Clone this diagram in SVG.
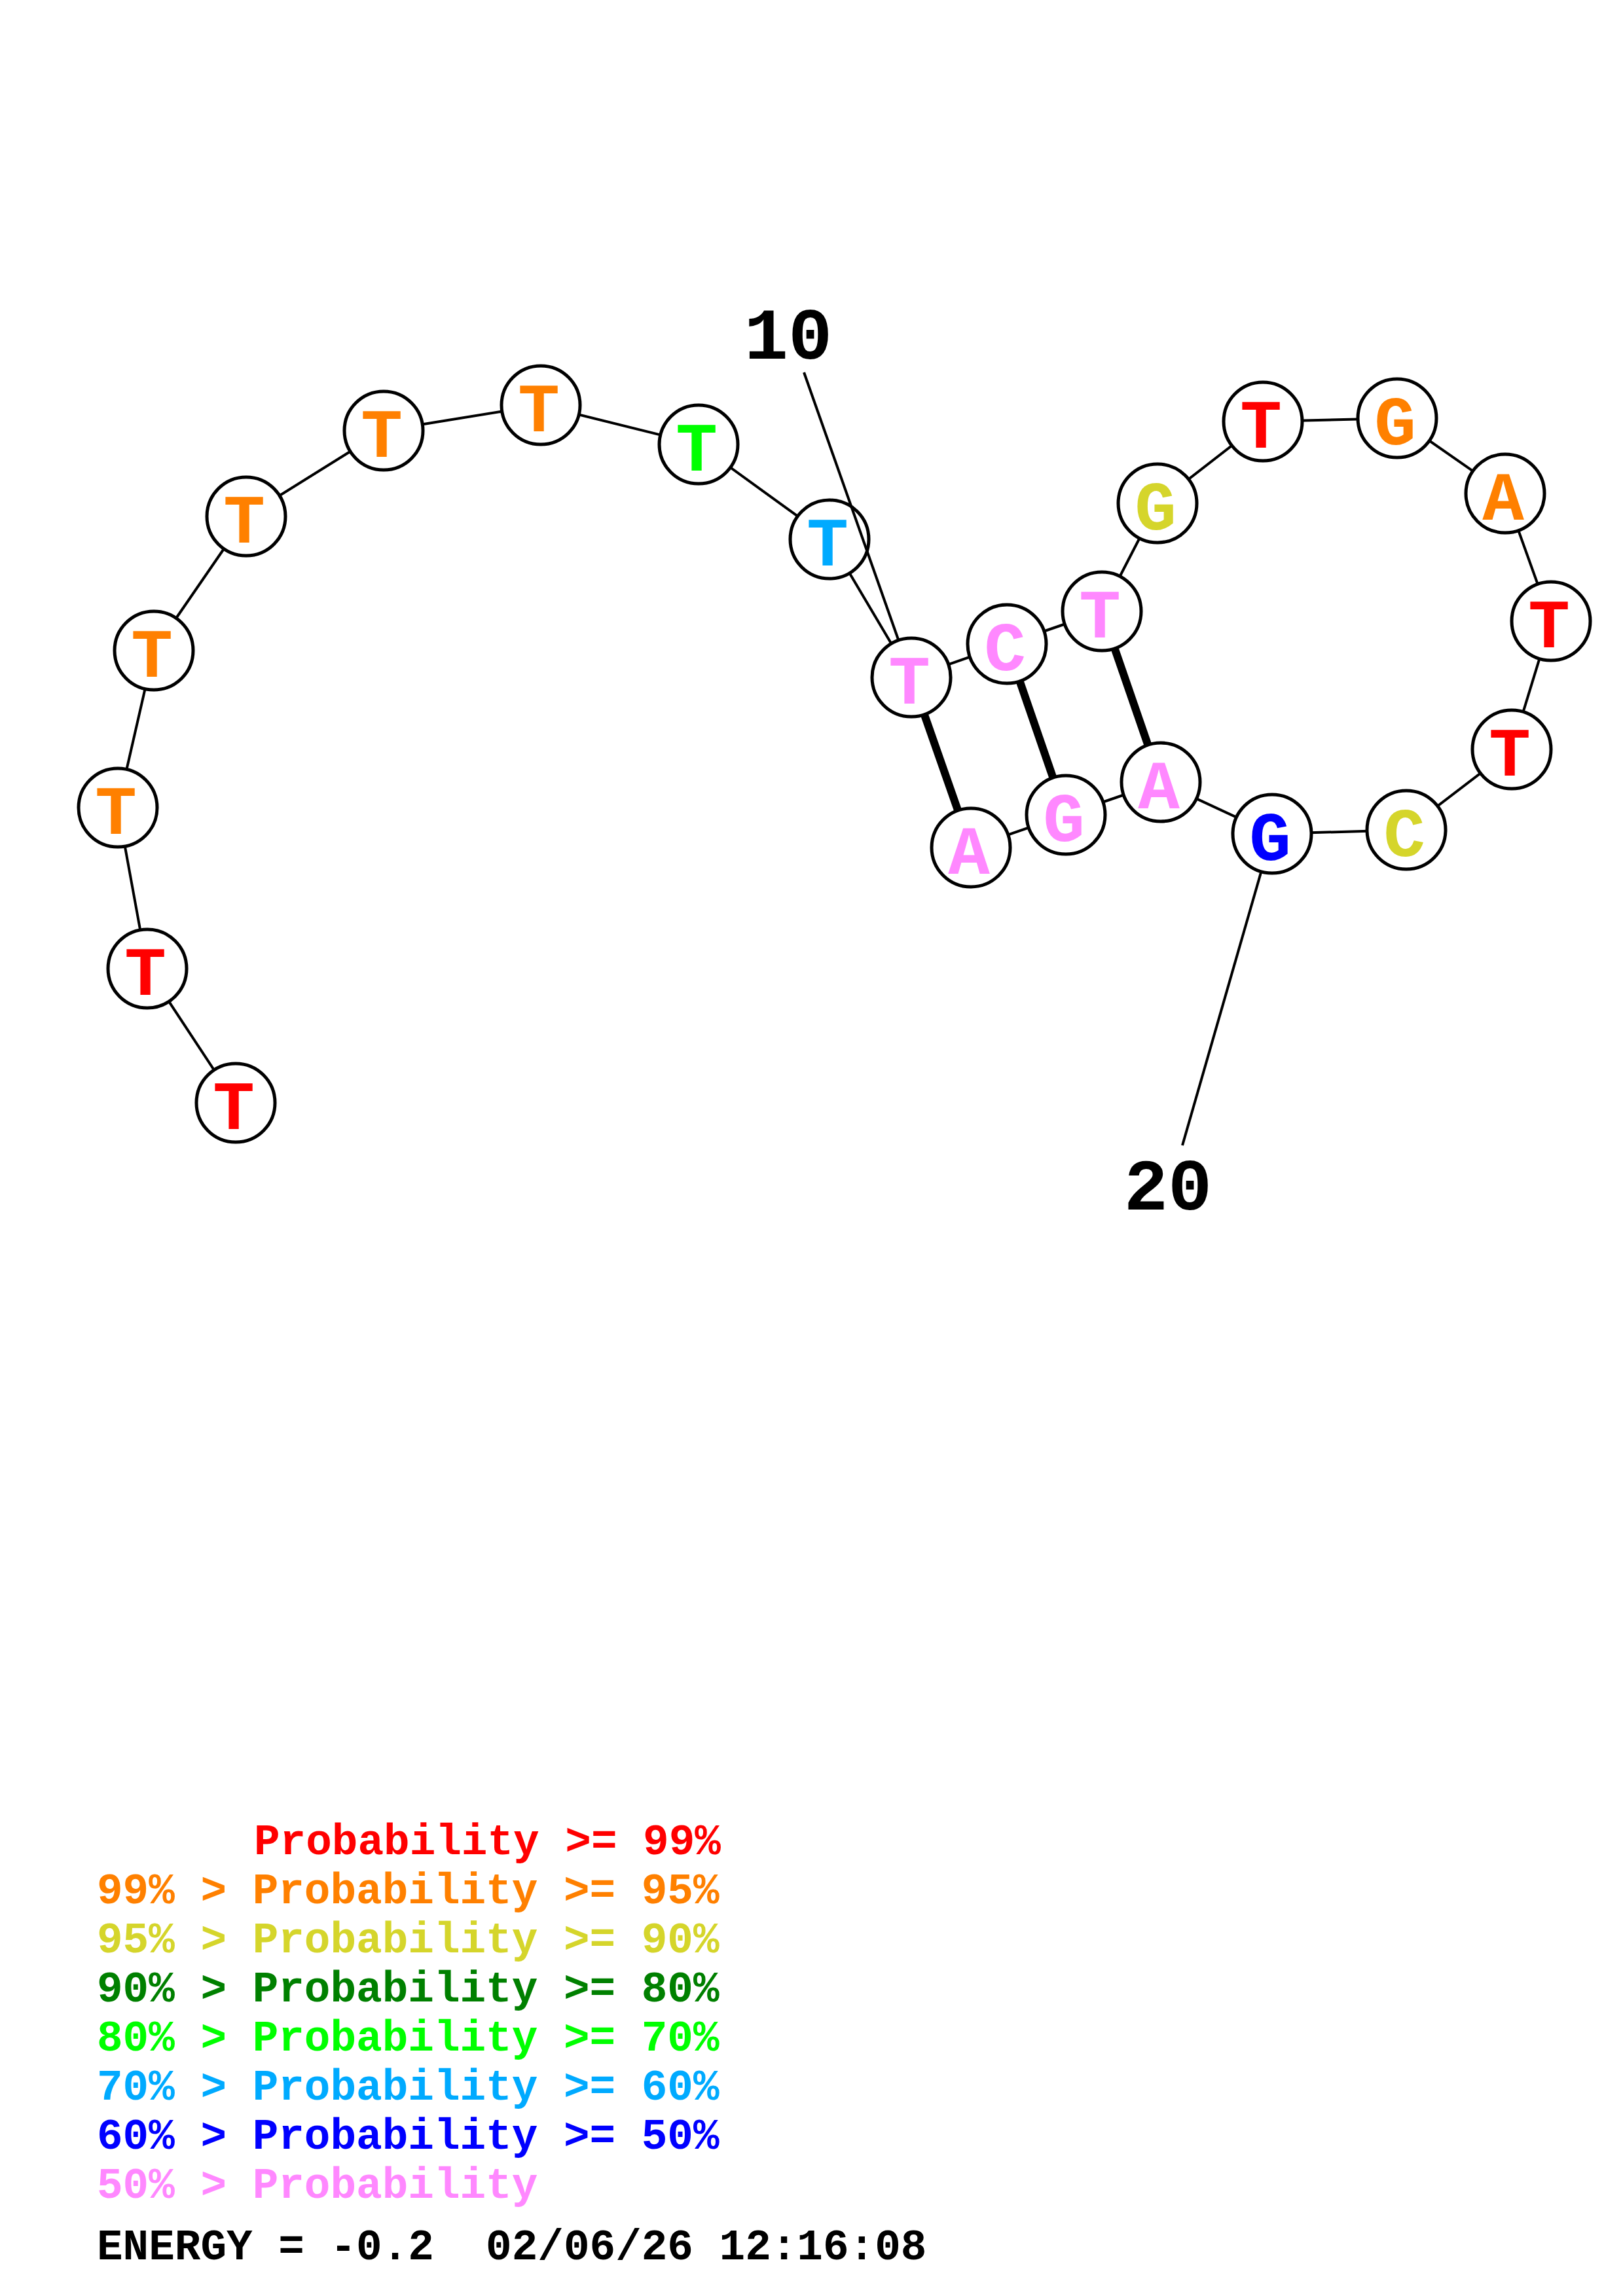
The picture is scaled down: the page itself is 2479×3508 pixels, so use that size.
<svg xmlns="http://www.w3.org/2000/svg" width="2479" height="3508" viewBox="0 0 2479 3508">
<style>
.bb{stroke:#000;stroke-width:4;fill:none}
.bp{stroke:#000;stroke-width:12;fill:none}
.nd circle{fill:#fff;stroke:#000;stroke-width:5}
.nd text{font-family:"Liberation Mono","Courier New",monospace;font-weight:bold;font-size:106px;text-anchor:middle}
.lbl{font-family:"Liberation Mono","Courier New",monospace;font-weight:bold;font-size:112px;text-anchor:middle;fill:#000}
.leg{font-family:"Liberation Mono","Courier New",monospace;font-weight:bold;font-size:66px}
.c99{fill:#FF0000}.c95{fill:#FF8000}.c90{fill:#D5D52B}.c80{fill:#008000}.c70{fill:#00FF00}.c60{fill:#00AAFF}.c50{fill:#0000FF}.c0{fill:#FF88FF}
</style>
<rect width="2479" height="3508" fill="#fff"/>
<g id="connectors">
<polyline class="bb" points="360,1685 225,1480 180,1234 235,994 376,789 586,658 826,619 1067,679 1267,824 1392,1035 1538,984 1683,934 1768,769 1929,644 2134,639 2299,754 2369,949 2309,1145 2148,1268 1943,1274 1773,1195 1628,1245 1483,1295"/>
<line class="bp" x1="1392" y1="1035" x2="1483" y2="1295"/>
<line class="bp" x1="1538" y1="984" x2="1628" y2="1245"/>
<line class="bp" x1="1683" y1="934" x2="1773" y2="1195"/>
</g>
<g id="n1" class="nd"><circle cx="360" cy="1685" r="60"/><text x="357" y="1725" class="c99">T</text></g>
<g id="n2" class="nd"><circle cx="225" cy="1480" r="60"/><text x="222" y="1520" class="c99">T</text></g>
<g id="n3" class="nd"><circle cx="180" cy="1234" r="60"/><text x="177" y="1274" class="c95">T</text></g>
<g id="n4" class="nd"><circle cx="235" cy="994" r="60"/><text x="232" y="1034" class="c95">T</text></g>
<g id="n5" class="nd"><circle cx="376" cy="789" r="60"/><text x="373" y="829" class="c95">T</text></g>
<g id="n6" class="nd"><circle cx="586" cy="658" r="60"/><text x="583" y="698" class="c95">T</text></g>
<g id="n7" class="nd"><circle cx="826" cy="619" r="60"/><text x="823" y="659" class="c95">T</text></g>
<g id="n8" class="nd"><circle cx="1067" cy="679" r="60"/><text x="1064" y="719" class="c70">T</text></g>
<g id="n9" class="nd"><circle cx="1267" cy="824" r="60"/><text x="1264" y="864" class="c60">T</text></g>
<g id="n10" class="nd"><circle cx="1392" cy="1035" r="60"/><text x="1389" y="1075" class="c0">T</text></g>
<g id="n11" class="nd"><circle cx="1538" cy="984" r="60"/><text x="1535" y="1024" class="c0">C</text></g>
<g id="n12" class="nd"><circle cx="1683" cy="934" r="60"/><text x="1680" y="974" class="c0">T</text></g>
<g id="n13" class="nd"><circle cx="1768" cy="769" r="60"/><text x="1765" y="809" class="c90">G</text></g>
<g id="n14" class="nd"><circle cx="1929" cy="644" r="60"/><text x="1926" y="684" class="c99">T</text></g>
<g id="n15" class="nd"><circle cx="2134" cy="639" r="60"/><text x="2131" y="679" class="c95">G</text></g>
<g id="n16" class="nd"><circle cx="2299" cy="754" r="60"/><text x="2296" y="794" class="c95">A</text></g>
<g id="n17" class="nd"><circle cx="2369" cy="949" r="60"/><text x="2366" y="989" class="c99">T</text></g>
<g id="n18" class="nd"><circle cx="2309" cy="1145" r="60"/><text x="2306" y="1185" class="c99">T</text></g>
<g id="n19" class="nd"><circle cx="2148" cy="1268" r="60"/><text x="2145" y="1308" class="c90">C</text></g>
<g id="n20" class="nd"><circle cx="1943" cy="1274" r="60"/><text x="1940" y="1314" class="c50">G</text></g>
<g id="n21" class="nd"><circle cx="1773" cy="1195" r="60"/><text x="1770" y="1235" class="c0">A</text></g>
<g id="n22" class="nd"><circle cx="1628" cy="1245" r="60"/><text x="1625" y="1285" class="c0">G</text></g>
<g id="n23" class="nd"><circle cx="1483" cy="1295" r="60"/><text x="1480" y="1335" class="c0">A</text></g>
<g id="labels">
<line class="bb" x1="1228" y1="569" x2="1372" y2="977"/>
<line class="bb" x1="1806" y1="1750" x2="1926" y2="1333"/>
<text class="lbl" x="1204" y="548">10</text>
<text class="lbl" x="1784" y="1848">20</text>
</g>
<g id="legend" class="leg">
<text x="388" y="2833" class="c99">Probability &gt;= 99%</text>
<text x="148" y="2908" class="c95">99% &gt; Probability &gt;= 95%</text>
<text x="148" y="2983" class="c90">95% &gt; Probability &gt;= 90%</text>
<text x="148" y="3058" class="c80">90% &gt; Probability &gt;= 80%</text>
<text x="148" y="3133" class="c70">80% &gt; Probability &gt;= 70%</text>
<text x="148" y="3208" class="c60">70% &gt; Probability &gt;= 60%</text>
<text x="148" y="3283" class="c50">60% &gt; Probability &gt;= 50%</text>
<text x="148" y="3358" class="c0">50% &gt; Probability</text>
<text x="148" y="3452" fill="#000" xml:space="preserve">ENERGY = -0.2  02/06/26 12:16:08</text>
</g>
</svg>
